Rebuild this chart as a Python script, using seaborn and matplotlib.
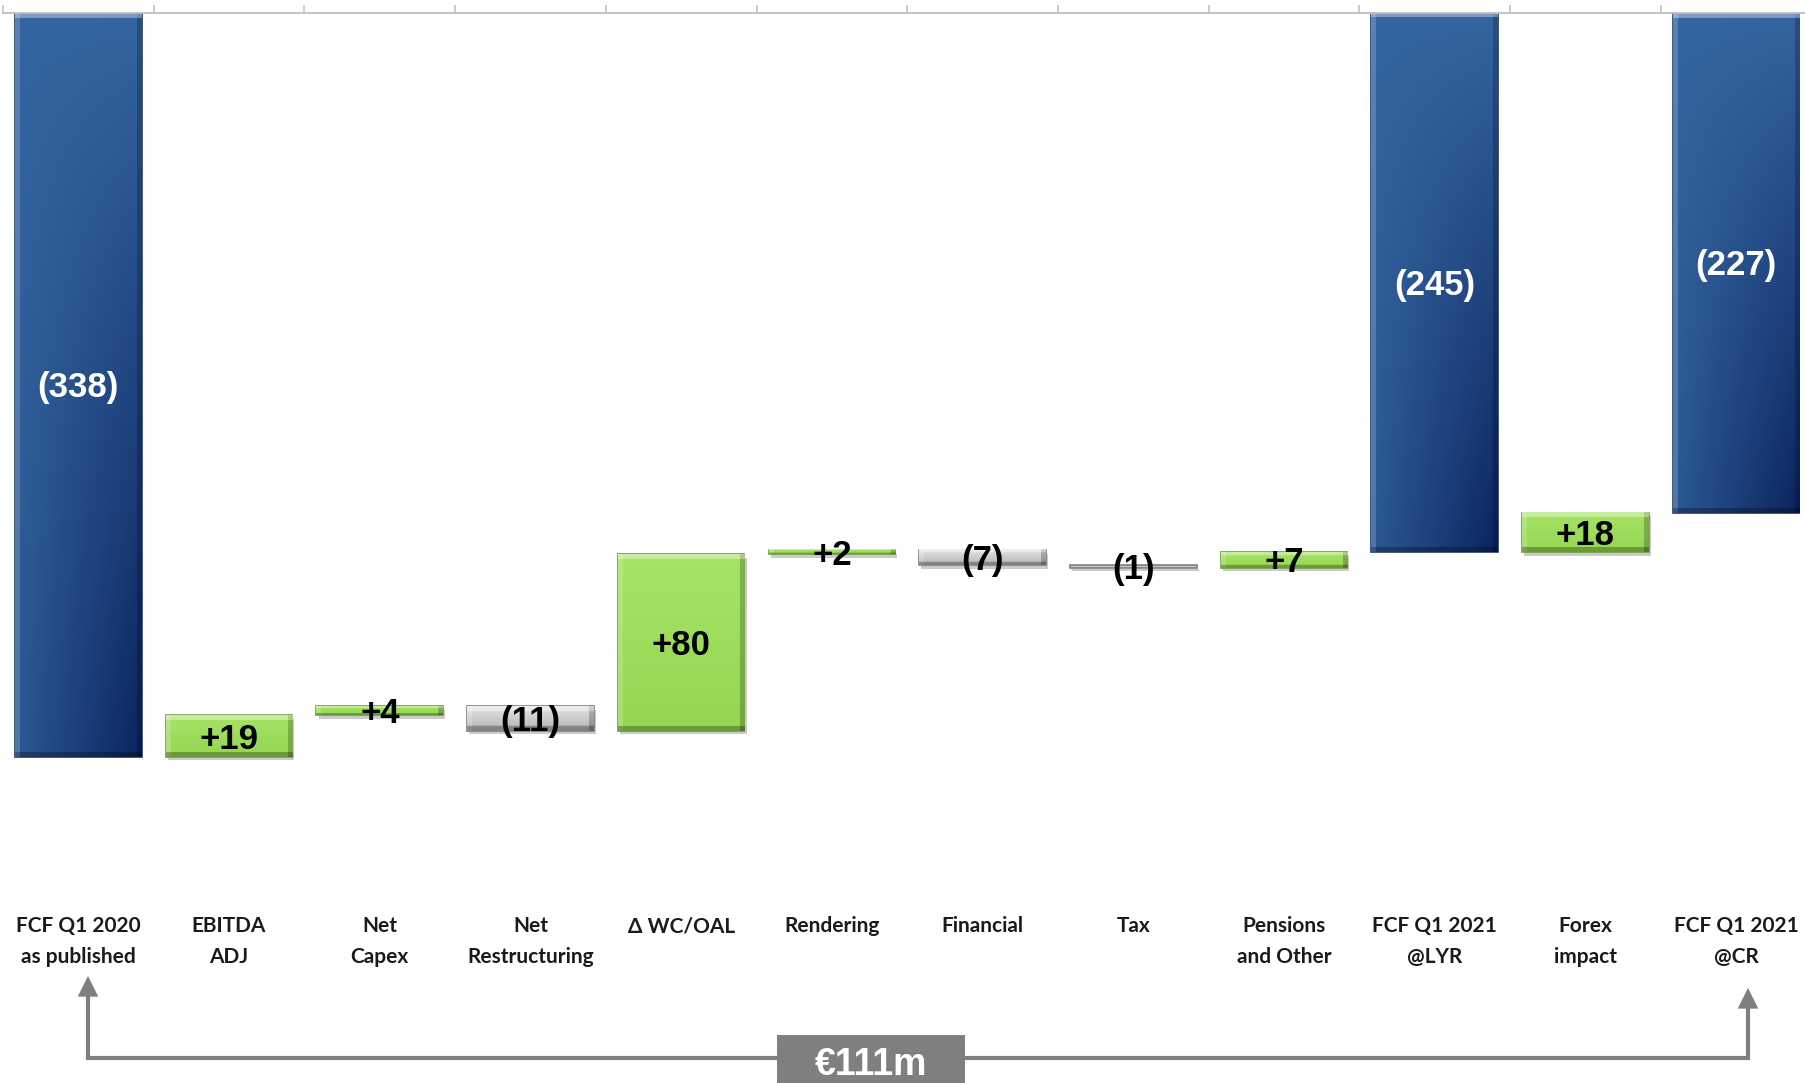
import numpy as np
import matplotlib
matplotlib.use("Agg")
import matplotlib.pyplot as plt
import seaborn as sns
from matplotlib.patches import FancyArrowPatch, Rectangle
from matplotlib.path import Path
import matplotlib.patheffects as pe
from matplotlib.transforms import ScaledTranslation

# ---------------- data ----------------
categories = ["FCF Q1 2020\nas published", "EBITDA\nADJ", "Net\nCapex", "Net\nRestructuring",
              "Δ WC/OAL", "Rendering", "Financial", "Tax", "Pensions\nand Other",
              "FCF Q1 2021\n@LYR", "Forex\nimpact", "FCF Q1 2021\n@CR"]
values = [-338, 19, 4, -11, 80, 2, -7, -1, 7, -245, 18, -227]
kinds = ["total", "up", "up", "down", "up", "up", "down", "down", "up", "total", "up", "total"]
value_labels = ["(338)", "+19", "+4", "(11)", "+80", "+2", "(7)", "(1)", "+7", "(245)", "+18", "(227)"]
bracket_label = "€111m"

# waterfall geometry derived from data
bottoms, heights = [], []
run = 0
for v, k in zip(values, kinds):
    if k == "total":
        bottoms.append(0)
        heights.append(v)
        run = v
    else:
        bottoms.append(run)
        heights.append(v)
        run += v

# ---------------- figure ----------------
sns.set_style("white")
W, H = 1805, 1083
fig = plt.figure(figsize=(W / 100, H / 100), dpi=100)
ax_top_px, ax_bot_px = 13, 905
cat_px = 150.7
ax_w_px = cat_px * len(categories)
ax = fig.add_axes([3 / W, 1 - ax_bot_px / H, ax_w_px / W, (ax_bot_px - ax_top_px) / H])

px_per_unit = 2.201
ymin = -(ax_bot_px - ax_top_px) / px_per_unit

bar_w = 0.84
sns.barplot(x=categories, y=heights, bottom=bottoms, color="#1f4a8a", width=bar_w,
            errorbar=None, ax=ax, linewidth=1.2, edgecolor="#1f3f70")
ax.set_xlim(-0.5, len(categories) - 0.5)
ax.set_ylim(ymin, 0)

base_cols = {"total": "#1f4a8a", "up": "#9cdc5a", "down": "#c4c4c4"}
edge_cols = {"total": "#1c3a6c", "up": "#6e9e38", "down": "#7f7f7f"}


def make_img(kind, wpx, hpx):
    Hh = max(int(round(hpx)), 2)
    Ww = max(int(round(wpx)), 2)
    t = ((np.arange(Hh) + 0.5) / Hh)[:, None, None]
    s = ((np.arange(Ww) + 0.5) / Ww)[None, :, None]
    if kind == "total":
        top = np.array([0.21, 0.40, 0.63])
        bl = np.array([0.17, 0.35, 0.58])
        br = np.array([0.04, 0.14, 0.37])
        bot = bl * (1 - s) + br * s
        img = top * (1 - t**0.9) + bot * t**0.9
    elif kind == "up":
        top = np.array([0.65, 0.89, 0.40])
        bot = np.array([0.58, 0.84, 0.32])
        img = top * (1 - t) + bot * t + 0 * s
    else:
        top = np.array([0.90, 0.90, 0.90])
        bot = np.array([0.70, 0.70, 0.70])
        img = top * (1 - t) + bot * t + 0 * s
    img = np.broadcast_to(img, (Hh, Ww, 3)).copy()
    b = int(min(5, max(1, Hh // 4)))
    bx = 5
    img[:, :bx] = img[:, :bx] + (1 - img[:, :bx]) * 0.18
    img[:, -bx:] = img[:, -bx:] * 0.78
    img[:b] = img[:b] + (1 - img[:b]) * 0.35
    img[-b:] = img[-b:] * 0.72
    return np.clip(img, 0, 1)


shadow = [pe.SimplePatchShadow(offset=(1.5, -2.5), shadow_rgbFace="0.55", alpha=0.45), pe.Normal()]
for i, p in enumerate(ax.patches):
    k = kinds[i]
    p.set_facecolor(base_cols[k])
    p.set_edgecolor(edge_cols[k])
    p.set_zorder(2)
    if k != "total":
        p.set_path_effects(shadow)
    x0, y0 = p.get_x(), p.get_y()
    w, h = p.get_width(), p.get_height()
    ylo, yhi = min(y0, y0 + h), max(y0, y0 + h)
    wpx = w * cat_px
    hpx = (yhi - ylo) * px_per_unit
    if hpx > 3:
        ax.imshow(make_img(k, wpx, hpx), extent=(x0, x0 + w, ylo, yhi), origin="upper",
                  aspect="auto", interpolation="bilinear", clip_path=p, zorder=2.1)

ax.set_xlim(-0.5, len(categories) - 0.5)
ax.set_ylim(ymin, 0)

# value labels (nudged down a few pixels)
nudge = ax.transData + ScaledTranslation(0, -3 / 100, fig.dpi_scale_trans)
for i, (b, h, lab, k) in enumerate(zip(bottoms, heights, value_labels, kinds)):
    ax.text(i, b + h / 2, lab, ha="center", va="center", fontsize=25, fontweight="bold",
            family="Liberation Sans", color="white" if k == "total" else "black", zorder=5,
            transform=nudge)

# axes styling
for side in ["left", "right", "bottom"]:
    ax.spines[side].set_visible(False)
ax.spines["top"].set_color("#bfbfbf")
ax.spines["top"].set_linewidth(1.3)
ax.set_yticks([])
ax.set_xticks(range(len(categories)))
ax.set_xticklabels(categories, fontfamily=["Lato", "DejaVu Sans"], fontweight="bold",
                   fontsize=15, linespacing=1.65, color="#1a1a1a")
ax.set_xticks(np.arange(len(categories) + 1) - 0.5, minor=True)
ax.tick_params(axis="x", which="major", bottom=False, top=False, length=0, pad=8)
ax.tick_params(axis="x", which="minor", top=True, bottom=False, length=6, width=1.1,
               color="#bfbfbf", direction="out")
ax.set_xlabel("")
ax.set_ylabel("")

# bracket arrow
gray = "#7f7f7f"
lx, rx = 88, 1748
verts = [(lx / W, 1 - 976 / H), (lx / W, 1 - 1058 / H), (rx / W, 1 - 1058 / H), (rx / W, 1 - 988 / H)]
path = Path(verts, [Path.MOVETO, Path.LINETO, Path.LINETO, Path.LINETO])
arr = FancyArrowPatch(path=path, arrowstyle="<|-|>,head_length=10,head_width=5",
                      transform=fig.transFigure, color=gray, lw=3, joinstyle="miter",
                      mutation_scale=1)
fig.add_artist(arr)
box = Rectangle((777 / W, 0), (965 - 777) / W, (H - 1035) / H, transform=fig.transFigure,
                facecolor=gray, edgecolor="none", zorder=5)
fig.add_artist(box)
fig.text(871 / W, 1 - 1065 / H, bracket_label, ha="center", va="center", color="white",
         fontsize=27, fontweight="bold", family="Liberation Sans", zorder=6)

fig.savefig("out.png", dpi=100)
